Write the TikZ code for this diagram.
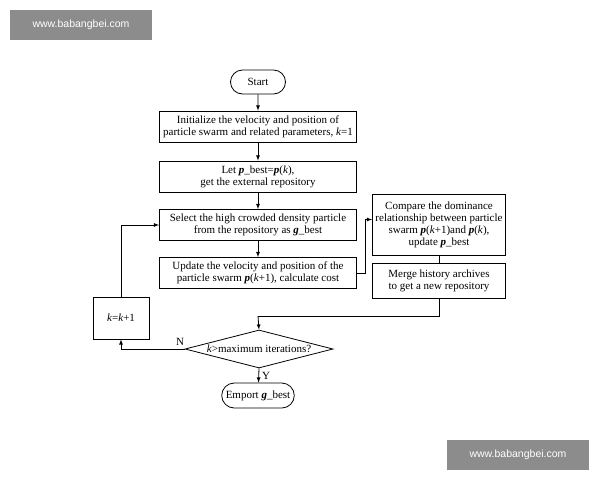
\documentclass[tikz,border=0pt]{standalone}
\usepackage{fontspec}
\setmainfont{Liberation Serif}
\newfontfamily\wmfont{Liberation Sans}
\usetikzlibrary{positioning, shapes.geometric, shapes.misc, arrows}
\newcommand{\bv}[1]{\textbf{\textit{#1}}}
\begin{document}
\begin{tikzpicture}[x=1pt, y=-1pt,
   font=\fontsize{11}{12}\selectfont,
        box/.style = {rectangle, draw, thick, minimum width=197pt, minimum height=31pt, align=center, inner sep=1pt},
       sbox/.style = {rectangle, draw, thick, minimum width=133pt, align=center, inner sep=1pt},
       term/.style = {rounded rectangle, draw, thick, minimum height=24pt, inner sep=3pt},
       dec/.style  = {diamond, draw, thick, aspect=4, inner sep=1pt, minimum width=148pt, minimum height=38pt},
       wm/.style   = {fill=black!45, text=white, font=\wmfont\fontsize{10.5}{12}\selectfont, minimum width=142pt, minimum height=30pt},
       line/.style = {thick, -latex}
                        ]
\useasboundingbox (0,0) rectangle (600,480);
\node (wm1) [wm] at (81,25) {www.babangbei.com};
\node (wm2) [wm] at (518,455) {www.babangbei.com};
\node (start) [term, minimum width=61pt] at (258,82) {Start};
\node (init)  [box] at (258,126.5) {Initialize the velocity and position of\\particle swarm and related parameters, \textit{k}=1};
\node (let)   [box] at (258,176.5) {Let \bv{p}\_best=\bv{p}(\textit{k}),\\get the external repository};
\node (sel)   [box] at (258,225) {Select the high crowded density particle\\from the repository as \bv{g}\_best};
\node (upd)   [box] at (258,273) {Update the velocity and position of the\\particle swarm \bv{p}(\textit{k}+1), calculate cost};
\node (cmp)   [sbox, minimum height=61pt] at (439,224.5) {Compare the dominance\\relationship between particle\\swarm \bv{p}(\textit{k}+1)and \bv{p}(\textit{k}),\\update \bv{p}\_best};
\node (mrg)   [sbox, minimum height=35pt] at (439,280.5) {Merge history archives\\to get a new repository};
\node (dec)   [dec] at (259,349) {\textit{k}>maximum iterations?};
\node (inc)   [rectangle, draw, thick, minimum width=56pt, minimum height=42pt] at (121,318) {\textit{k}=\textit{k}+1};
\node (out)   [term, minimum width=72pt, minimum height=25pt] at (258,395.5) {Emport \bv{g}\_best};
\coordinate (join) at (258,316);
\draw[line] (start) -- (init);
\draw[line] (init) -- (let);
\draw[line] (let) -- (sel);
\draw[line] (sel) -- (upd);
\draw[line] (upd.east) -- ++(8,0) |- ([yshift=5pt]cmp.west);
\draw[thick] (cmp) -- (mrg);
\draw[thick] (mrg.south) |- (join);
\draw[line] (join) -- (dec.north);
\draw[line] (dec.west) -| (inc.south);
\draw[line] (inc.north) |- (sel.west);
\draw[line] (dec.south) -- (out);
\node at (180,342) {N};
\node at (266,376) {Y};
\end{tikzpicture}
\end{document}
